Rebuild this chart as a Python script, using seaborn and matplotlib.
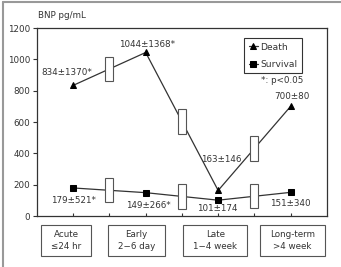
import numpy as np
import pandas as pd
import matplotlib
matplotlib.use("Agg")
import matplotlib.pyplot as plt
import matplotlib.transforms as mtransforms
from matplotlib.patches import Rectangle
from matplotlib.lines import Line2D
import seaborn as sns

# data
periods = ["Acute\n\u226424 hr", "Early\n2\u22126 day", "Late\n1\u22124 week", "Long-term\n>4 week"]
period_pos = [0, 2, 4, 6]
death = [834, 1044, 163, 700]
survival = [179, 149, 101, 151]
death_labels = ["834\u00b11370*", "1044\u00b11368*", "163\u00b1146", "700\u00b180"]
survival_labels = ["179\u00b1521*", "149\u00b1266*", "101\u00b1174", "151\u00b1340"]
yticks = [0, 200, 400, 600, 800, 1000, 1200]

df = pd.concat([
    pd.DataFrame({"pos": period_pos, "BNP": death, "group": "Death"}),
    pd.DataFrame({"pos": period_pos, "BNP": survival, "group": "Survival"}),
])

sns.set_style("ticks")
plt.rcParams["font.family"] = ["DejaVu Sans"]
fs = 6.3
ink = "#333333"

fig = plt.figure(figsize=(3.41, 2.67), dpi=100)
ax = fig.add_axes([0.1085, 0.191, 0.850, 0.704])

markers = {"Death": "^", "Survival": "s"}
for g, sub in df.groupby("group"):
    sns.lineplot(data=sub, x="pos", y="BNP", ax=ax, color=ink, lw=0.9,
                 marker=markers[g], markersize=4.5, markeredgecolor="black",
                 markerfacecolor="black", label=g, legend=False)

# white boxes between time points
box_h, box_w = 155, 0.22
for vals in (death, survival):
    for i in range(len(vals) - 1):
        xm = (period_pos[i] + period_pos[i + 1]) / 2
        ym = (vals[i] + vals[i + 1]) / 2
        ax.add_patch(Rectangle((xm - box_w / 2, ym - box_h / 2), box_w, box_h,
                               facecolor="white", edgecolor="#555555", lw=0.8, zorder=4))

# value annotations
death_off = [(-6, 13), (1, 8), (3, 31), (1, 10)]
surv_off = [(0, -13), (3, -13), (-1, -8), (0, -11)]
for x, y, t, o in zip(period_pos, death, death_labels, death_off):
    ax.annotate(t, (x, y), xytext=o, textcoords="offset pixels", ha="center",
                va="center", fontsize=fs, color=ink)
for x, y, t, o in zip(period_pos, survival, survival_labels, surv_off):
    ax.annotate(t, (x, y), xytext=o, textcoords="offset pixels", ha="center",
                va="center", fontsize=fs, color=ink)

ax.set_xlim(-1, 7)
ax.set_ylim(0, 1200)
ax.set_yticks(yticks)
ax.set_xticks(range(0, 7))
ax.set_xticklabels([])
ax.tick_params(axis="y", labelsize=fs, colors=ink, length=3, width=0.8, pad=2)
ax.tick_params(axis="x", direction="in", length=2.5, width=0.8, colors=ink)
ax.set_xlabel("")
ax.set_ylabel("")
for s in ax.spines.values():
    s.set_visible(True)
    s.set_color(ink)
    s.set_linewidth(0.9)

# period label boxes (text first, then a frame around its extent)
trans = mtransforms.blended_transform_factory(ax.transData, ax.transAxes)
label_shift = [-7, -9.5, -3, 2]
period_texts = []
for x, lab, sh in zip(period_pos, periods, label_shift):
    tr = trans + mtransforms.ScaledTranslation(sh / 100, 0, fig.dpi_scale_trans)
    period_texts.append(ax.text(x, -0.13, lab, transform=tr, ha="center", va="center",
                                fontsize=fs, color=ink, linespacing=1.5))
fig.canvas.draw()
for t in period_texts:
    bb = t.get_window_extent()
    fig.add_artist(Rectangle((bb.x0 - 10, bb.y0 - 5), bb.width + 20, bb.height + 10,
                             transform=None, facecolor="none", edgecolor="#555555", lw=0.8))

leg = ax.legend(loc="upper right", bbox_to_anchor=(0.914, 0.947), fontsize=fs + 0.3,
                frameon=True, fancybox=False, handlelength=1.0, handletextpad=0.25,
                borderpad=0.5, labelspacing=0.9, borderaxespad=0)
leg.get_frame().set_edgecolor("black")
leg.get_frame().set_linewidth(0.8)
for t in leg.get_texts():
    t.set_color(ink)

fig.text(38 / 341, 1 - 15 / 267, "BNP pg/mL", fontsize=fs, color=ink, ha="left", va="center")
fig.text(282 / 341, 1 - 80 / 267, "*: p<0.05", fontsize=fs, color=ink, ha="center", va="center")

# grey frame on left and top
fig.add_artist(Line2D([3 / 341, 3 / 341], [0, 1 - 2 / 267], color="#999999", lw=1.5))
fig.add_artist(Line2D([3 / 341, 1], [1 - 2 / 267, 1 - 2 / 267], color="#999999", lw=1.5))

fig.savefig("out.png", dpi=100)
